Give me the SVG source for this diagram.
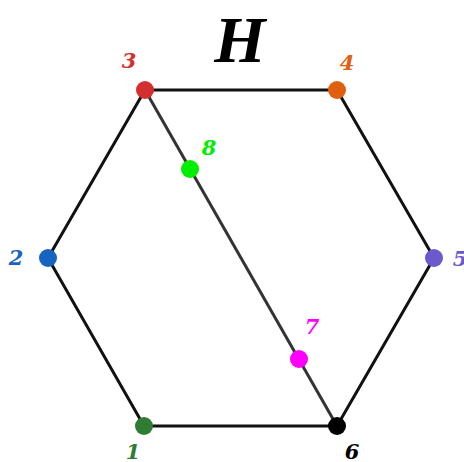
<svg xmlns="http://www.w3.org/2000/svg" width="464" height="462" viewBox="0 0 464 462">
<style>
.edge{stroke:#111;stroke-width:3;fill:none;stroke-linecap:round}
.diag{stroke:#333;stroke-width:3;fill:none}
.lbl{font-family:"DejaVu Serif","Liberation Serif",serif;font-style:italic;font-weight:bold;font-size:21px;text-anchor:middle}
.title{font-family:"Liberation Serif","DejaVu Serif",serif;font-style:italic;font-weight:bold;font-size:66px;text-anchor:middle}
</style>
<rect width="464" height="462" fill="#fff"/>
<text class="title" x="240" y="62" fill="#000">H</text>
<g id="connectors">
<line class="edge" x1="144" y1="426" x2="48" y2="258"/>
<line class="edge" x1="48" y1="258" x2="145" y2="90"/>
<line class="edge" x1="145" y1="90" x2="337" y2="90"/>
<line class="edge" x1="337" y1="90" x2="434" y2="258"/>
<line class="edge" x1="434" y1="258" x2="337" y2="426"/>
<line class="edge" x1="337" y1="426" x2="144" y2="426"/>
<line class="diag" x1="145" y1="90" x2="337" y2="426"/>
</g>
<g id="n1"><circle cx="144" cy="426" r="9" fill="#2e7d32"/><text class="lbl" x="133" y="459" fill="#2e7d32">1</text></g>
<g id="n2"><circle cx="48" cy="258" r="9" fill="#1565c0"/><text class="lbl" x="16" y="265" fill="#1565c0">2</text></g>
<g id="n3"><circle cx="145" cy="90" r="9" fill="#d32f2f"/><text class="lbl" x="129" y="68" fill="#d32f2f">3</text></g>
<g id="n4"><circle cx="337" cy="90" r="9" fill="#e0600f"/><text class="lbl" x="347" y="70" fill="#e0600f">4</text></g>
<g id="n5"><circle cx="434" cy="258" r="9" fill="#6a5acd"/><text class="lbl" x="460" y="266" fill="#6a5acd">5</text></g>
<g id="n6"><circle cx="337" cy="426" r="9" fill="#000"/><text class="lbl" x="352" y="459" fill="#000">6</text></g>
<g id="n7"><circle cx="299" cy="359" r="9" fill="#ff00ff"/><text class="lbl" x="312" y="334" fill="#ff00ff">7</text></g>
<g id="n8"><circle cx="190" cy="169" r="9" fill="#00ee00"/><text class="lbl" x="209" y="155" fill="#00ee00">8</text></g>
</svg>
